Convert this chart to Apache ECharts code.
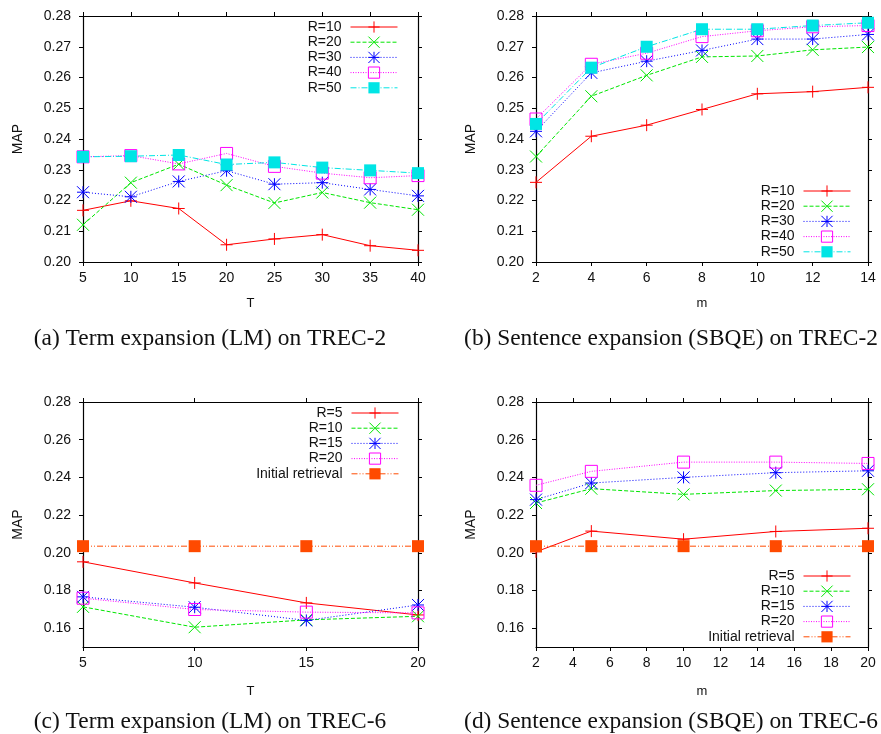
<!DOCTYPE html>
<html>
<head>
<meta charset="utf-8">
<script src="https://cdn.jsdelivr.net/npm/echarts@6/dist/echarts.min.js"></script>
<style>
html,body{margin:0;padding:0;background:#fff;}
#top{position:absolute;left:0;top:0;width:881px;height:367px;}
#bot{position:absolute;left:0;top:367px;width:881px;height:367px;}
</style>
</head>
<body>
<div id="top"></div>
<div id="bot"></div>
<script>
// ---------- DATA ----------
// (a) Term expansion (LM) on TREC-2
const aT = [5, 10, 15, 20, 25, 30, 35, 40];
const aR10 = [0.2168, 0.2199, 0.2174, 0.2056, 0.2075, 0.2089, 0.2053, 0.2038];
const aR20 = [0.2121, 0.2258, 0.2318, 0.2250, 0.2192, 0.2226, 0.2193, 0.2170];
const aR30 = [0.2227, 0.2212, 0.2262, 0.2297, 0.2253, 0.2258, 0.2236, 0.2215];
const aR40 = [0.2342, 0.2346, 0.2319, 0.2353, 0.2311, 0.2289, 0.2274, 0.2281];
const aR50 = [0.2342, 0.2344, 0.2348, 0.2317, 0.2324, 0.2307, 0.2298, 0.2289];
// (b) Sentence expansion (SBQE) on TREC-2
const bM = [2, 4, 6, 8, 10, 12, 14];
const bR10 = [0.2259, 0.2409, 0.2445, 0.2496, 0.2547, 0.2554, 0.2568];
const bR20 = [0.2343, 0.2539, 0.2607, 0.2667, 0.2670, 0.2690, 0.2699];
const bR30 = [0.2425, 0.2615, 0.2653, 0.2688, 0.2725, 0.2725, 0.2740];
const bR40 = [0.2465, 0.2643, 0.2679, 0.2733, 0.2752, 0.2765, 0.2769];
const bR50 = [0.2449, 0.2632, 0.2700, 0.2757, 0.2757, 0.2769, 0.2778];
// (c) Term expansion (LM) on TREC-6
const cT = [5, 10, 15, 20];
const cR5 = [0.1952, 0.1840, 0.1734, 0.1670];
const cR10 = [0.1713, 0.1605, 0.1644, 0.1663];
const cR15 = [0.1766, 0.1711, 0.1641, 0.1723];
const cR20 = [0.1759, 0.1699, 0.1685, 0.1681];
const cInit = [0.2035, 0.2035, 0.2035, 0.2035];
// (d) Sentence expansion (SBQE) on TREC-6
const dM = [2, 5, 10, 15, 20];
const dR5 = [0.2005, 0.2115, 0.2072, 0.2113, 0.2130];
const dR10 = [0.2264, 0.2340, 0.2310, 0.2330, 0.2337];
const dR15 = [0.2282, 0.2370, 0.2400, 0.2425, 0.2435];
const dR20 = [0.2358, 0.2432, 0.2481, 0.2481, 0.2474];
const dInit = [0.2035, 0.2035, 0.2035, 0.2035, 0.2035];
// tick values
const topYTicks = [0.20, 0.21, 0.22, 0.23, 0.24, 0.25, 0.26, 0.27, 0.28];
const botYTicks = [0.16, 0.18, 0.20, 0.22, 0.24, 0.26, 0.28];
const aXTicks = [5, 10, 15, 20, 25, 30, 35, 40];
const bXTicks = [2, 4, 6, 8, 10, 12, 14];
const cXTicks = [5, 10, 15, 20];
const dXTicks = [2, 4, 6, 8, 10, 12, 14, 16, 18, 20];
const topNames = ['R=10', 'R=20', 'R=30', 'R=40', 'R=50'];
const botNames = ['R=5', 'R=10', 'R=15', 'R=20', 'Initial retrieval'];
const captions = [
  '(a) Term expansion (LM) on TREC-2',
  '(b) Sentence expansion (SBQE) on TREC-2',
  '(c) Term expansion (LM) on TREC-6',
  '(d) Sentence expansion (SBQE) on TREC-6'
];

// ---------- STYLES ----------
const SANS = 'Liberation Sans';
const SERIF = 'Liberation Serif';
const SYM = {
  plus: 'path://M0,5L10,5M5,0L5,10',
  cross: 'path://M0,0L10,10M10,0L0,10',
  star: 'path://M0,5L10,5M5,0L5,10M0,0L10,10M10,0L0,10',
  box: 'path://M0,0L10,0L10,10L0,10Z',
  fbox: 'rect'
};
const STY = [
  {color: '#ff0000', dash: 'solid', sym: 'plus'},
  {color: '#00e600', dash: [4, 2], sym: 'cross'},
  {color: '#0000ff', dash: [1, 2], sym: 'star'},
  {color: '#ff00ff', dash: [1, 1.5], sym: 'box'},
  {color: '#00e5e5', dash: [6, 2, 1, 2], sym: 'fbox'}
];
const INIT_STY = {color: '#ff4a00', dash: [6, 2, 1, 2, 1, 2], sym: 'fbox'};

function mkSeries(name, xs, ys, st, gi) {
  const filled = st.sym === 'fbox';
  const open = st.sym === 'box';
  return {
    type: 'line', name: name,
    xAxisIndex: gi * 2, yAxisIndex: gi * 2,
    data: xs.map((x, i) => [x, ys[i]]),
    symbol: SYM[st.sym],
    symbolSize: 12,
    showAllSymbol: true,
    clip: false,
    lineStyle: {color: st.color, width: 1, type: st.dash},
    itemStyle: {
      color: open ? 'rgba(0,0,0,0)' : st.color,
      borderColor: st.color,
      borderWidth: filled ? 0 : 1
    },
    emphasis: {disabled: true},
    silent: true
  };
}

function legendItem(name, st) {
  const filled = st.sym === 'fbox';
  const open = st.sym === 'box';
  return {
    name: name,
    lineStyle: {color: st.color, width: 1, type: st.dash},
    itemStyle: {color: open ? 'rgba(0,0,0,0)' : st.color, borderColor: st.color, borderWidth: filled ? 0 : 1}
  };
}

function axesFor(gi, xmin, xmax, xticks, ymin, ymax, yticks, xname, xNameGap) {
  const lineSty = {show: true, lineStyle: {color: '#000', width: 1.2}};
  const tick = (vals) => ({show: true, inside: false, length: 4, customValues: vals, lineStyle: {color: '#000', width: 1}});
  const xs = [
    {type: 'value', gridIndex: gi, min: xmin, max: xmax, position: 'bottom',
     axisLine: lineSty, axisTick: tick(xticks), splitLine: {show: false},
     axisLabel: {show: true, customValues: xticks, margin: 9, fontSize: 14, fontFamily: SANS, color: '#111'},
     name: xname, nameLocation: 'middle', nameGap: xNameGap,
     nameTextStyle: {fontSize: 13, fontFamily: SANS, color: '#111'}},
    {type: 'value', gridIndex: gi, min: xmin, max: xmax, position: 'top',
     axisLine: lineSty, axisTick: tick(xticks), splitLine: {show: false},
     axisLabel: {show: false}}
  ];
  const ys = [
    {type: 'value', gridIndex: gi, min: ymin, max: ymax, position: 'left',
     axisLine: lineSty, axisTick: tick(yticks), splitLine: {show: false},
     axisLabel: {show: true, customValues: yticks, margin: 12, fontSize: 14, fontFamily: SANS, color: '#111',
                 formatter: v => v.toFixed(2)},
     name: 'MAP', nameLocation: 'middle', nameGap: 58, nameRotate: 90,
     nameTextStyle: {fontSize: 14, fontFamily: SANS, color: '#111'}},
    {type: 'value', gridIndex: gi, min: ymin, max: ymax, position: 'right',
     axisLine: lineSty, axisTick: tick(yticks), splitLine: {show: false},
     axisLabel: {show: false}}
  ];
  return {xs, ys};
}

function legendCfg(names, styles, right, top) {
  return {
    orient: 'vertical', right: right, top: top, align: 'right', padding: 0,
    itemWidth: 47, itemHeight: 14, itemGap: 1.2, selectedMode: false,
    textStyle: {fontSize: 14, fontFamily: SANS, color: '#111', padding: [0, 4, 0, 0]},
    data: names.map((n, i) => legendItem(n, styles[i]))
  };
}

function caption(text, cx, top) {
  return {text: text, left: cx, top: top, textAlign: 'center', padding: 0,
          textStyle: {fontSize: 23.4, fontFamily: SERIF, fontWeight: 'normal', color: '#111'}};
}

// ---------- TOP CHART ----------
const topChart = echarts.init(document.getElementById('top'), null, {renderer: 'canvas'});
const ta = axesFor(0, 5, 40, aXTicks, 0.20, 0.28, topYTicks, 'T', 35);
const tb = axesFor(1, 2, 14, bXTicks, 0.20, 0.28, topYTicks, 'm', 35);
const aYs = [aR10, aR20, aR30, aR40, aR50];
const bYs = [bR10, bR20, bR30, bR40, bR50];
topChart.setOption({
  animation: false,
  backgroundColor: '#fff',
  title: [caption(captions[0], 210, 327), caption(captions[1], 671, 327)],
  grid: [
    {left: 83, top: 16, width: 335, height: 246},
    {left: 536, top: 16, width: 332, height: 246}
  ],
  xAxis: [...ta.xs, ...tb.xs],
  yAxis: [...ta.ys, ...tb.ys],
  legend: [
    legendCfg(topNames, STY, 483, 20),
    legendCfg(topNames, STY, 30, 184)
  ],
  series: [
    ...topNames.map((n, i) => mkSeries(n, aT, aYs[i], STY[i], 0)),
    ...topNames.map((n, i) => mkSeries(n, bM, bYs[i], STY[i], 1))
  ]
});

// ---------- BOTTOM CHART ----------
const botChart = echarts.init(document.getElementById('bot'), null, {renderer: 'canvas'});
const bc = axesFor(0, 5, 20, cXTicks, 0.15, 0.28, botYTicks, 'T', 38);
const bd = axesFor(1, 2, 20, dXTicks, 0.15, 0.28, botYTicks, 'm', 38);
const botSty = [STY[0], STY[1], STY[2], STY[3], INIT_STY];
const cYs = [cR5, cR10, cR15, cR20, cInit];
const dYs = [dR5, dR10, dR15, dR20, dInit];
botChart.setOption({
  animation: false,
  backgroundColor: '#fff',
  title: [caption(captions[2], 210, 343), caption(captions[3], 671, 343)],
  grid: [
    {left: 83, top: 35, width: 335, height: 245},
    {left: 536, top: 35, width: 332, height: 245}
  ],
  xAxis: [...bc.xs, ...bd.xs],
  yAxis: [...bc.ys, ...bd.ys],
  legend: [
    legendCfg(botNames, botSty, 482, 39),
    legendCfg(botNames, botSty, 30, 202)
  ],
  series: [
    ...botNames.map((n, i) => mkSeries(n, cT, cYs[i], botSty[i], 0)),
    ...botNames.map((n, i) => mkSeries(n, dM, dYs[i], botSty[i], 1))
  ]
});
</script>
</body>
</html>
